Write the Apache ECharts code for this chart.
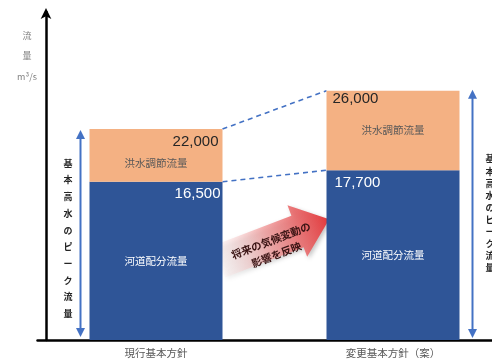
<!DOCTYPE html>
<html>
<head>
<meta charset="utf-8">
<script src="https://cdn.jsdelivr.net/npm/echarts@6/dist/echarts.min.js"></script>
<style>
html,body{margin:0;padding:0;background:#fff;}
#main{width:492px;height:362px;}
</style>
</head>
<body>
<div id="main"></div>
<script>
// ---- data ----
const categories = ['現行基本方針', '変更基本方針（案）'];
const riverFlow = [16500, 17700];   // 河道配分流量
const peakFlow = [22000, 26000];    // 基本高水のピーク流量
const riverName = '河道配分流量';
const controlName = '洪水調節流量';
const axisNameLines = ['流', '量', 'm³/s'];
const peakText = '基本高水のピーク流量';
const arrowLines = ['将来の気候変動の', '影響を反映'];
const yMax = 34200;

const controlFlow = peakFlow.map((v, i) => v - riverFlow[i]);
const fmt = v => v.toLocaleString('en-US');

const BLUE = '#2F5597', ORANGE = '#F4B183', ABLUE = '#4472C4';
const JP = '"Noto Sans CJK JP", sans-serif';
const NUM = '"Liberation Sans", Arial, sans-serif';
const BW = 133;

const chart = echarts.init(document.getElementById('main'), null, {renderer: 'canvas'});

const option = {
  animation: false,
  grid: {left: 37.5, top: 12, width: 474, height: 328, outerBoundsMode: 'none', containLabel: false},
  xAxis: {
    type: 'category', data: categories,
    axisLine: {lineStyle: {color: '#000', width: 2.5}},
    axisTick: {show: false},
    axisLabel: {color: '#595959', fontSize: 10.5, fontFamily: JP, margin: 8}
  },
  yAxis: {
    type: 'value', min: 0, max: yMax, offset: -8.5,
    axisLine: {show: true, symbol: ['none', 'arrow'], symbolSize: [8, 11], symbolOffset: [0, 4], lineStyle: {color: '#000', width: 2.5}},
    axisLabel: {show: false}, axisTick: {show: false}, splitLine: {show: false}
  },
  series: [
    {
      type: 'bar', name: riverName, stack: 'total', data: riverFlow, barWidth: BW, barGap: '-100%',
      itemStyle: {color: BLUE},
      label: {show: true, position: 'inside', formatter: '{a}', color: '#fff', fontSize: 10.5, fontFamily: JP}
    },
    {
      type: 'bar', name: controlName, stack: 'total', barWidth: BW, barGap: '-100%',
      data: controlFlow.map((v, i) => ({value: v, label: {offset: i === 0 ? [0, 8] : [0, 0]}})),
      itemStyle: {color: ORANGE},
      label: {show: true, position: 'inside', formatter: '{a}', color: '#595959', fontSize: 10.5, fontFamily: JP}
    },
    {
      type: 'bar', name: 'peak', data: peakFlow.map((v, i) => ({
        value: v,
        label: i === 0 ? {position: 'insideTopRight', offset: [1, 0]} : {position: 'insideTopLeft', offset: [1, -4.5]}
      })),
      barWidth: BW, barGap: '-100%', silent: true,
      itemStyle: {color: 'rgba(0,0,0,0)'},
      label: {show: true, formatter: p => fmt(p.value), color: '#262626', fontSize: 15, fontFamily: NUM}
    },
    {
      type: 'bar', name: 'river', data: riverFlow.map((v, i) => ({
        value: v,
        label: i === 0 ? {position: 'insideTopRight', offset: [3, 0]} : {position: 'insideTopLeft', offset: [3, 0]}
      })),
      barWidth: BW, barGap: '-100%', silent: true,
      itemStyle: {color: 'rgba(0,0,0,0)'},
      label: {show: true, formatter: p => fmt(p.value), color: '#fff', fontSize: 15, fontFamily: NUM}
    }
  ]
};
chart.setOption(option);

// ---- annotations positioned from data ----
const px = (i, v) => chart.convertToPixel({seriesIndex: 0}, [i, v]);
const half = BW / 2;
const g = [];

// dashed connectors
const t0 = px(0, peakFlow[0]), t1 = px(1, peakFlow[1]);
const r0 = px(0, riverFlow[0]), r1 = px(1, riverFlow[1]);
[[t0, t1], [r0, r1]].forEach(([a, b]) => {
  g.push({type: 'line', silent: true, shape: {x1: a[0] + half, y1: a[1], x2: b[0] - half, y2: b[1]},
    style: {stroke: ABLUE, lineWidth: 1.6, lineDash: [5, 4]}});
});

// double arrows
function dArrow(x, yTop, yBot) {
  g.push({type: 'line', silent: true, shape: {x1: x, y1: yTop + 6, x2: x, y2: yBot - 6}, style: {stroke: ABLUE, lineWidth: 2}});
  g.push({type: 'polygon', silent: true, shape: {points: [[x, yTop], [x - 4.5, yTop + 9], [x + 4.5, yTop + 9]]}, style: {fill: ABLUE}});
  g.push({type: 'polygon', silent: true, shape: {points: [[x, yBot], [x - 4.5, yBot - 9], [x + 4.5, yBot - 9]]}, style: {fill: ABLUE}});
}
const b0 = px(0, 0), b1 = px(1, 0);
dArrow(b0[0] - half - 9, t0[1] + 1, b0[1] - 3);
dArrow(b1[0] + half + 13, t1[1] - 1, b1[1] - 2);

// vertical texts
const chars = peakText.split('').join('\n');
g.push({type: 'text', silent: true, x: 68, y: 155,
  style: {text: chars, fill: '#262626', font: 'bold 9px ' + JP, lineHeight: 16.7, align: 'center', verticalAlign: 'top'}});
g.push({type: 'text', silent: true, x: 490, y: 153,
  style: {text: chars, fill: '#262626', font: 'bold 9px ' + JP, lineHeight: 12.1, align: 'center', verticalAlign: 'top'}});

// y axis name
g.push({type: 'text', silent: true, x: 27, y: 25,
  style: {text: axisNameLines.join('\n'), fill: '#7f7f7f', font: '9px ' + JP, lineHeight: 20.5, align: 'center', verticalAlign: 'top'}});

// red gradient arrow
g.push({
  type: 'group', x: 297.5, y: 231.5, rotation: 21 * Math.PI / 180, silent: true,
  children: [
    {type: 'polygon', shape: {points: [[-84, -17], [0, -17], [0, -28], [34, 0], [0, 27], [0, 17], [-84, 17]]},
      style: {
        fill: new echarts.graphic.LinearGradient(0, 0, 1, 0, [
          {offset: 0, color: 'rgba(252,228,228,0.2)'},
          {offset: 0.45, color: 'rgba(242,150,150,0.75)'},
          {offset: 1, color: '#e2383b'}
        ]),
        shadowBlur: 4, shadowColor: 'rgba(0,0,0,0.25)', shadowOffsetX: 2, shadowOffsetY: 2
      }},
    {type: 'text', x: -28, y: -1, style: {text: arrowLines[0], fill: '#3a1414', font: 'bold 10.5px ' + JP, align: 'center', verticalAlign: 'middle'}},
    {type: 'text', x: -28, y: 14, style: {text: arrowLines[1], fill: '#3a1414', font: 'bold 10.5px ' + JP, align: 'center', verticalAlign: 'middle'}}
  ]
});

chart.setOption({graphic: {elements: g}});
</script>
</body>
</html>
